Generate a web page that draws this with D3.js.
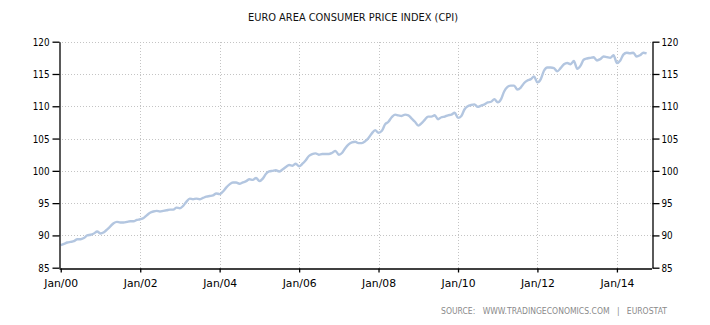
<!DOCTYPE html>
<html>
<head>
<meta charset="utf-8">
<script src="https://cdn.jsdelivr.net/npm/d3@7/dist/d3.min.js"></script>
<style>
  html, body { margin: 0; padding: 0; background: #fff; }
  svg { display: block; }
</style>
</head>
<body>
<svg id="chart" width="710" height="325"></svg>
<script>
// Euro area HICP, monthly index values, Jan 2000 – Oct 2014
const startYear = 2000;
const cpi2000 = [88.5, 88.7, 88.9, 89.0, 89.1, 89.4, 89.4, 89.6, 90.0, 90.1, 90.3, 90.6];
const cpi2001 = [90.3, 90.5, 90.9, 91.4, 91.9, 92.1, 92.0, 92.0, 92.1, 92.2, 92.2, 92.4];
const cpi2002 = [92.5, 92.7, 93.1, 93.5, 93.7, 93.8, 93.7, 93.8, 93.9, 94.0, 94.0, 94.3];
const cpi2003 = [94.2, 94.6, 95.2, 95.7, 95.6, 95.7, 95.6, 95.8, 96.0, 96.1, 96.2, 96.5];
const cpi2004 = [96.4, 96.8, 97.4, 97.9, 98.2, 98.2, 98.0, 98.2, 98.4, 98.7, 98.6, 98.9];
const cpi2005 = [98.4, 98.8, 99.5, 99.9, 100.0, 100.1, 99.9, 100.2, 100.6, 100.9, 100.8, 101.1];
const cpi2006 = [100.7, 101.1, 101.6, 102.3, 102.6, 102.7, 102.5, 102.6, 102.6, 102.6, 102.8, 103.1];
const cpi2007 = [102.5, 102.8, 103.5, 104.1, 104.4, 104.5, 104.3, 104.3, 104.6, 105.1, 105.8, 106.3];
const cpi2008 = [105.9, 106.2, 107.2, 107.6, 108.3, 108.7, 108.6, 108.5, 108.7, 108.6, 108.1, 107.6];
const cpi2009 = [107.0, 107.4, 107.9, 108.4, 108.4, 108.6, 108.0, 108.3, 108.4, 108.6, 108.7, 109.0];
const cpi2010 = [108.2, 108.5, 109.5, 110.0, 110.2, 110.3, 109.9, 110.1, 110.3, 110.6, 110.7, 111.1];
const cpi2011 = [110.6, 111.1, 112.3, 113.0, 113.2, 113.2, 112.6, 112.9, 113.6, 114.0, 114.2, 114.6];
const cpi2012 = [113.7, 114.2, 115.5, 116.0, 116.0, 115.9, 115.4, 115.9, 116.5, 116.7, 116.5, 117.0];
const cpi2013 = [115.8, 116.3, 117.2, 117.4, 117.5, 117.6, 117.1, 117.3, 117.7, 117.6, 117.5, 117.9];
const cpi2014 = [116.7, 117.1, 118.0, 118.3, 118.2, 118.3, 117.7, 117.9, 118.3, 118.2];

const yTicks = [85, 90, 95, 100, 105, 110, 115, 120];
const xTickYears = [2000, 2002, 2004, 2006, 2008, 2010, 2012, 2014];

const title = "EURO AREA CONSUMER PRICE INDEX (CPI)";
const sourceText = "SOURCE:   WWW.TRADINGECONOMICS.COM   |   EUROSTAT";

// Flatten yearly arrays into dated points
const yearly = [cpi2000, cpi2001, cpi2002, cpi2003, cpi2004, cpi2005, cpi2006, cpi2007,
                cpi2008, cpi2009, cpi2010, cpi2011, cpi2012, cpi2013, cpi2014];
const data = [];
yearly.forEach((vals, yi) => {
  vals.forEach((v, m) => data.push({ date: new Date(startYear + yi, m, 1), value: v }));
});

const svg = d3.select("#chart");
const plotLeft = 59, plotRight = 651.5, plotTop = 41.7, plotBottom = 267.7;

const x = d3.scaleTime()
  .domain([new Date(1999, 11, 16), new Date(2014, 10, 15)])
  .range([plotLeft, plotRight]);
const y = d3.scaleLinear().domain([85, 120]).range([plotBottom, plotTop]);

const font = "'DejaVu Sans', Verdana, sans-serif";

// Grid
const grid = svg.append("g").attr("stroke", "#c4c4c4").attr("stroke-width", 1)
  .attr("stroke-dasharray", "1,2").attr("shape-rendering", "crispEdges");
grid.selectAll("line.h").data(yTicks.filter(t => t > 85)).join("line")
  .attr("x1", plotLeft).attr("x2", plotRight)
  .attr("y1", d => Math.round(y(d)) + 0.5).attr("y2", d => Math.round(y(d)) + 0.5);
grid.selectAll("line.v").data(xTickYears.filter(t => t > 2000)).join("line")
  .attr("x1", d => Math.round(x(new Date(d, 0, 1))) + 0.5)
  .attr("x2", d => Math.round(x(new Date(d, 0, 1))) + 0.5)
  .attr("y1", plotTop).attr("y2", plotBottom);

// Series line
const line = d3.line().x(d => x(d.date)).y(d => y(d.value)).curve(d3.curveMonotoneX);
svg.append("path").datum(data)
  .attr("fill", "none")
  .attr("stroke", "#b3c6e0")
  .attr("stroke-width", 2.4)
  .attr("stroke-linejoin", "round")
  .attr("d", line);

// Axes
const tickFmt = d => "Jan/" + String(d.getFullYear()).slice(2);
const gx = svg.append("g").attr("transform", `translate(0,${Math.round(plotBottom) + 0.5})`)
  .call(d3.axisBottom(x).tickValues(xTickYears.map(yr => new Date(yr, 0, 1)))
    .tickFormat(tickFmt).tickSize(4).tickSizeOuter(0).tickPadding(7));
const gl = svg.append("g").attr("transform", `translate(${Math.round(plotLeft) + 0.5},0)`)
  .call(d3.axisLeft(y).tickValues(yTicks).tickSize(7).tickSizeOuter(0).tickPadding(3));
const gr = svg.append("g").attr("transform", `translate(${Math.round(plotRight) + 0.5},0)`)
  .call(d3.axisRight(y).tickValues(yTicks).tickSize(7).tickSizeOuter(0).tickPadding(2));

[gx, gl, gr].forEach(g => {
  g.select(".domain").attr("stroke", "#000").attr("stroke-width", 1.3);
  g.selectAll(".tick line").attr("stroke", "#000").attr("stroke-width", 1.3);
  g.selectAll("text").attr("fill", "#000").attr("font-family", font).attr("font-size", "11px");
});
// Narrow the DejaVu glyphs a little so labels keep their compact width
gl.selectAll("text").attr("textLength", function () { return this.textContent.length * 5.6; })
  .attr("lengthAdjust", "spacingAndGlyphs");
gr.selectAll("text").attr("textLength", function () { return this.textContent.length * 5.6; })
  .attr("lengthAdjust", "spacingAndGlyphs");
gx.selectAll("text").attr("textLength", 34).attr("lengthAdjust", "spacingAndGlyphs");

// Title
svg.append("text")
  .attr("x", 353).attr("y", 21)
  .attr("text-anchor", "middle")
  .attr("font-family", font)
  .attr("font-size", "11px")
  .attr("fill", "#111")
  .attr("textLength", 210).attr("lengthAdjust", "spacingAndGlyphs")
  .text(title);

// Source note
svg.append("text")
  .attr("x", 441).attr("y", 313.5)
  .style("white-space", "pre")
  .attr("font-family", font)
  .attr("font-size", "8px")
  .attr("fill", "#8a8a8a")
  .attr("textLength", 226).attr("lengthAdjust", "spacingAndGlyphs")
  .text(sourceText);
</script>
</body>
</html>
